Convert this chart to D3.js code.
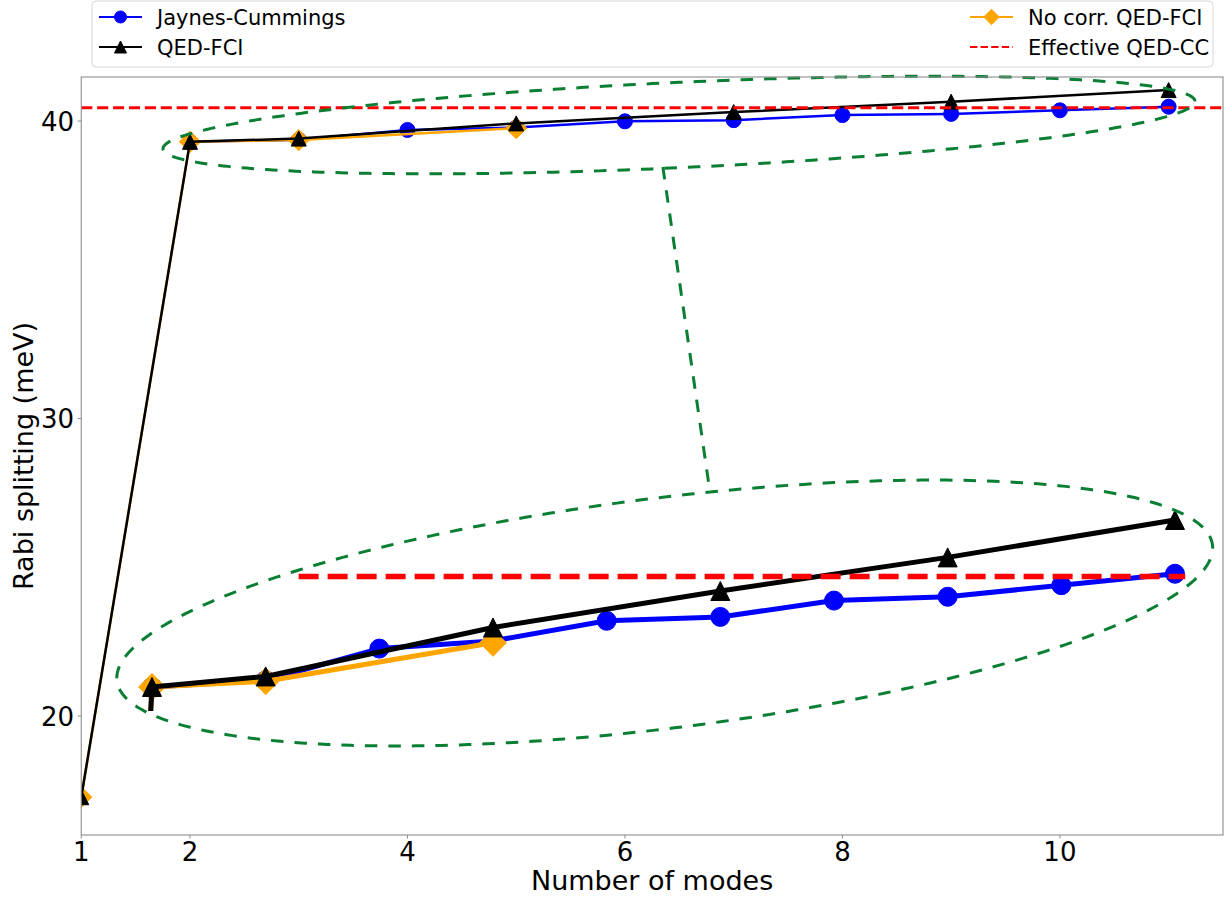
<!DOCTYPE html>
<html><head><meta charset="utf-8">
<script src="https://cdn.jsdelivr.net/npm/d3@7"></script>
<style>
body{margin:0;background:#fff}
svg{display:block}
text{font-family:"DejaVu Sans",sans-serif;fill:#000}
</style>
</head><body>
<svg id="c" width="1227" height="899"></svg>
<script>
// ---------------- data ----------------
const modesJC = [2,3,4,5,6,7,8,9,10,11];
const valuesJC = [39.30,39.37,39.70,39.78,39.99,40.03,40.20,40.24,40.36,40.48];
const modesFCI = [1,2,3,5,7,9,11];
const valuesFCI = [17.27,39.30,39.41,39.92,40.30,40.65,41.04];
const modesNoCorr = [1,2,3,5];
const valuesNoCorr = [17.27,39.30,39.36,39.76];
const effectiveCC = 40.45;
const xTicks = [1,2,4,6,8,10];
const yTicks = [20,30,40];
const seriesNames = ["Jaynes-Cummings","QED-FCI","No corr. QED-FCI","Effective QED-CC"];
const xLabel = "Number of modes";
const yLabel = "Rabi splitting (meV)";

// ---------------- layout ----------------
const svg = d3.select("#c");
const M = {left:81.25, right:1223, top:77, bottom:835};
const x = d3.scaleLinear().domain([1, 11.5]).range([M.left, M.right]);
const y = d3.scaleLinear().domain([16.0, 41.48]).range([M.bottom, M.top]);
// inset (zoomed) axes, transparent, no frame
const IN = {left:130, right:1200, top:430, bottom:711};
const xi = d3.scaleLinear().domain([1.8065, 11.22]).range([IN.left, IN.right]);
const yi = d3.scaleLinear().domain([39.05, 41.977]).range([IN.bottom, IN.top]);

const defs = svg.append("defs");
defs.append("clipPath").attr("id","clipMain").append("rect")
  .attr("x",M.left).attr("y",M.top).attr("width",M.right-M.left).attr("height",M.bottom-M.top);
defs.append("clipPath").attr("id","clipInset").append("rect")
  .attr("x",IN.left).attr("y",IN.top).attr("width",IN.right-IN.left).attr("height",IN.bottom-IN.top);

function symbolPath(shape, ms){
  const h = ms/2;
  if (shape==="circle") return `M${h},0A${h},${h} 0 1,1 ${-h},0A${h},${h} 0 1,1 ${h},0Z`;
  if (shape==="triangle") return `M0,${-h}L${h},${h}L${-h},${h}Z`;
  const d = ms*Math.SQRT2/2;
  return `M0,${-d}L${d},0L0,${d}L${-d},0Z`;
}

function drawSeries(g, xs, ys, xs_, ys_, color, shape, lw, ms){
  const pts = xs.map((d,i)=>[xs_(d), ys_(ys[i])]);
  g.append("path").attr("d", d3.line()(pts)).attr("fill","none")
    .attr("stroke",color).attr("stroke-width",lw).attr("stroke-linejoin","round");
  g.selectAll(null).data(pts).enter().append("path")
    .attr("d", symbolPath(shape, ms))
    .attr("transform", p=>`translate(${p[0]},${p[1]})`)
    .attr("fill",color).attr("stroke",color).attr("stroke-width",1);
}

const BLUE="#0000ff", ORANGE="#ffa500", RED="#ff0000", GREEN="#0a7f33";

// ---------------- main axes data ----------------
const gMain = svg.append("g").attr("clip-path","url(#clipMain)");
drawSeries(gMain, modesJC, valuesJC, x, y, BLUE, "circle", 2.5, 15);
drawSeries(gMain, modesNoCorr, valuesNoCorr, x, y, ORANGE, "diamond", 2.5, 15);
drawSeries(gMain, modesFCI, valuesFCI, x, y, "#000", "triangle", 2.5, 15);
gMain.append("line").attr("x1",M.left).attr("x2",M.right)
  .attr("y1",y(effectiveCC)).attr("y2",y(effectiveCC))
  .attr("stroke",RED).attr("stroke-width",3).attr("stroke-dasharray","11.1,4.8");

// ---------------- inset data ----------------
const gIn = svg.append("g").attr("clip-path","url(#clipInset)");
drawSeries(gIn, modesJC, valuesJC, xi, yi, BLUE, "circle", 5, 19);
drawSeries(gIn, modesNoCorr, valuesNoCorr, xi, yi, ORANGE, "diamond", 5, 19);
drawSeries(gIn, modesFCI, valuesFCI, xi, yi, "#000", "triangle", 5, 19);
gIn.append("line").attr("x1",xi(3.29)).attr("x2",xi(11.09))
  .attr("y1",yi(effectiveCC)).attr("y2",yi(effectiveCC))
  .attr("stroke",RED).attr("stroke-width",5.5).attr("stroke-dasharray","20,9");

// ---------------- zoom annotations (green dashed ellipses + connector) ----------------
const ellipses = [
  {cx:6.497, cy:39.866, rx:4.745, ry:1.435, shear:0.1674},
  {cx:6.366, cy:23.462, rx:5.039, ry:3.899, shear:0.4335}
];
function ellipsePath(e){
  const pts = d3.range(0,361).map(k=>{
    const t = k*Math.PI/180;
    const dx = e.rx*Math.cos(t);
    return [x(e.cx+dx), y(e.cy + e.shear*dx + e.ry*Math.sin(t))];
  });
  return d3.line()(pts);
}
const gAnn = svg.append("g");
ellipses.forEach(e=>{
  gAnn.append("path").attr("d", ellipsePath(e)).attr("fill","none")
    .attr("stroke",GREEN).attr("stroke-width",3).attr("stroke-dasharray","12.5,11");
});
const connector = [[6.349,38.454],[6.782,27.53]];
gAnn.append("path").attr("d", d3.line()(connector.map(p=>[x(p[0]),y(p[1])])))
  .attr("fill","none").attr("stroke",GREEN).attr("stroke-width",3).attr("stroke-dasharray","12.5,11");

// ---------------- axes ----------------
const SPINE="#8c8c8c";
const gAx = svg.append("g");
gAx.append("rect").attr("x",M.left).attr("y",M.top).attr("width",M.right-M.left).attr("height",M.bottom-M.top)
  .attr("fill","none").attr("stroke",SPINE).attr("stroke-width",1.1);
xTicks.forEach(t=>{
  gAx.append("line").attr("x1",x(t)).attr("x2",x(t)).attr("y1",M.bottom).attr("y2",M.bottom+3.5)
    .attr("stroke",SPINE).attr("stroke-width",1);
  gAx.append("text").attr("x",x(t)).attr("y",861).attr("text-anchor","middle")
    .attr("font-size",26).text(t);
});
yTicks.forEach(t=>{
  gAx.append("line").attr("x1",M.left-3.5).attr("x2",M.left).attr("y1",y(t)).attr("y2",y(t))
    .attr("stroke",SPINE).attr("stroke-width",1);
  gAx.append("text").attr("x",74).attr("y",y(t)+9.5).attr("text-anchor","end")
    .attr("font-size",26).text(t);
});
gAx.append("text").attr("x",(M.left+M.right)/2).attr("y",890).attr("text-anchor","middle")
  .attr("font-size",27).text(xLabel);
gAx.append("text").attr("transform",`translate(33,${(M.top+M.bottom)/2}) rotate(-90)`)
  .attr("text-anchor","middle").attr("font-size",27).text(yLabel);

// ---------------- legend ----------------
const gL = svg.append("g");
gL.append("rect").attr("x",92).attr("y",1).attr("width",1121).attr("height",66).attr("rx",4)
  .attr("fill","#fff").attr("fill-opacity",0.8).attr("stroke","#d6d6d6").attr("stroke-width",1);
const legendItems = [
  {name:seriesNames[0], color:BLUE, shape:"circle", x0:99, row:0},
  {name:seriesNames[1], color:"#000", shape:"triangle", x0:99, row:1},
  {name:seriesNames[2], color:ORANGE, shape:"diamond", x0:970, row:0},
  {name:seriesNames[3], color:RED, shape:null, x0:970, row:1}
];
legendItems.forEach(it=>{
  const cy = 17 + it.row*30;
  const ln = gL.append("line").attr("x1",it.x0).attr("x2",it.x0+43).attr("y1",cy).attr("y2",cy)
    .attr("stroke",it.color).attr("stroke-width",2);
  if (!it.shape) ln.attr("stroke-dasharray","7.4,3.2");
  else gL.append("path").attr("d",symbolPath(it.shape, it.shape==="diamond"?11:12))
    .attr("transform",`translate(${it.x0+21.5},${cy})`).attr("fill",it.color).attr("stroke",it.color);
  gL.append("text").attr("x",it.x0+58).attr("y",cy+7.6).attr("font-size",21).text(it.name);
});
</script>
</body></html>
